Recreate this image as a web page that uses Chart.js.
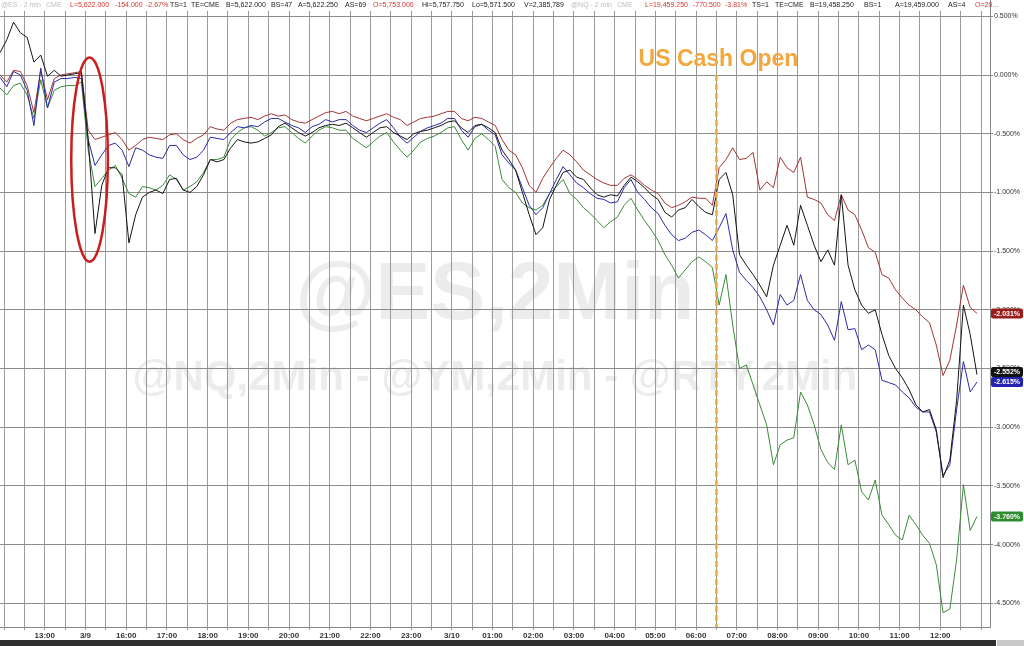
<!DOCTYPE html>
<html lang="en">
<head>
<meta charset="UTF-8">
<title>@ES,2Min</title>
<script src="https://cdn.jsdelivr.net/npm/chart.js"></script>
<style>
  html, body { margin: 0; padding: 0; background: #fff; }
  #wrap { position: relative; width: 1024px; height: 646px; overflow: hidden; font-family: "Liberation Sans", Arial, sans-serif; }
  #box { position: absolute; left: 0; top: 0; width: 1024px; height: 640px; }
  #head { position: absolute; left: 0; top: 0; width: 990px; height: 11px; background: #fff; font-size: 7px; line-height: 10px; white-space: pre; }
  #head span { position: absolute; top: 0; }
  .g { color: #bdbdbd; } .r { color: #d9342b; } .d { color: #1a1a1a; }
  #bar { position: absolute; left: 0; top: 640px; width: 996px; height: 6px; background: #2f2f2f; }
  #bar2 { position: absolute; left: 997px; top: 640px; width: 27px; height: 6px; background: #c9c9c9; }
</style>
</head>
<body>
<div id="wrap">
  <div id="box"><canvas id="chart"></canvas></div>
  <div id="head"></div>
  <div id="bar"></div><div id="bar2"></div>
</div>

<script>
  // time axis: hours counted from the 13:00 tick, one sample every 10 minutes
  const T0 = -1.1;
  const STEP = 1 / 6;
  const hourLabels = ["13:00", "3/9", "16:00", "17:00", "18:00", "19:00", "20:00", "21:00", "22:00", "23:00",
    "3/10", "01:00", "02:00", "03:00", "04:00", "05:00", "06:00", "07:00", "08:00", "09:00", "10:00", "11:00", "12:00"];
  const cashOpen = 16.5; // 06:30

  // % change
  const es = [
    0.19, 0.30, 0.45, 0.36, 0.32, 0.11, 0.17, -0.01, 0.04, -0.01,
    0.00, 0.01, 0.02, -0.55, -1.35, -0.94, -0.79, -0.79, -0.85, -1.43,
    -1.19, -1.04, -1.00, -0.98, -1.01, -0.89, -0.88, -0.98, -1.00, -0.95,
    -0.85, -0.72, -0.74, -0.72, -0.62, -0.55, -0.57, -0.58, -0.57, -0.54,
    -0.51, -0.44, -0.41, -0.45, -0.49, -0.52, -0.49, -0.45, -0.43, -0.42,
    -0.43, -0.41, -0.45, -0.49, -0.53, -0.49, -0.45, -0.44, -0.49, -0.52,
    -0.55, -0.50, -0.48, -0.47, -0.45, -0.43, -0.40, -0.39, -0.45, -0.49,
    -0.43, -0.42, -0.45, -0.49, -0.64, -0.72, -0.81, -1.00, -1.19, -1.36,
    -1.30, -1.06, -0.94, -0.83, -0.81, -0.87, -0.89, -0.96, -1.02, -1.04,
    -1.02, -1.03, -0.94, -0.87, -0.91, -0.96, -1.02, -1.06, -1.17, -1.21,
    -1.15, -1.13, -1.06, -1.12, -1.17, -1.19, -0.89, -0.83, -1.02, -1.53,
    -1.62, -1.70, -1.79, -1.89, -1.62, -1.45, -1.28, -1.45, -1.11, -1.28,
    -1.45, -1.59, -1.49, -1.62, -1.02, -1.62, -1.83, -1.96, -2.03, -2.00,
    -2.21, -2.39, -2.50, -2.58, -2.68, -2.81, -2.87, -2.85, -3.02, -3.43,
    -3.28, -2.77, -1.96, -2.21, -2.552
  ];
  const nq = [
    -0.02, -0.10, 0.03, 0.00, -0.13, -0.43, 0.06, -0.28, -0.06, -0.03,
    -0.03, -0.02, -0.03, -0.55, -0.77, -0.68, -0.60, -0.58, -0.64, -0.78,
    -0.62, -0.64, -0.68, -0.70, -0.71, -0.60, -0.60, -0.68, -0.72, -0.70,
    -0.64, -0.53, -0.54, -0.55, -0.49, -0.44, -0.45, -0.43, -0.44, -0.40,
    -0.37, -0.37, -0.40, -0.43, -0.45, -0.49, -0.44, -0.42, -0.38, -0.40,
    -0.38, -0.38, -0.43, -0.47, -0.49, -0.45, -0.41, -0.38, -0.45, -0.53,
    -0.58, -0.53, -0.48, -0.45, -0.43, -0.41, -0.37, -0.37, -0.47, -0.53,
    -0.44, -0.42, -0.47, -0.51, -0.68, -0.75, -0.81, -0.96, -1.11, -1.19,
    -1.13, -1.01, -0.89, -0.78, -0.85, -0.92, -0.96, -1.01, -1.05, -1.06,
    -1.09, -1.08, -0.96, -0.89, -1.00, -1.06, -1.13, -1.18, -1.28, -1.36,
    -1.41, -1.39, -1.34, -1.32, -1.36, -1.41, -1.30, -1.18, -1.49, -1.68,
    -1.75, -1.81, -1.89, -2.00, -2.13, -1.87, -1.96, -1.92, -1.70, -1.92,
    -2.00, -2.04, -2.13, -2.26, -1.93, -2.17, -2.16, -2.34, -2.30, -2.34,
    -2.60, -2.62, -2.64, -2.70, -2.75, -2.83, -2.87, -2.87, -3.04, -3.41,
    -3.32, -2.85, -2.44, -2.70, -2.615
  ];
  const ym = [
    0.00, -0.06, 0.04, 0.03, -0.09, -0.32, 0.04, -0.21, -0.03, 0.00,
    0.01, 0.02, 0.03, -0.47, -0.55, -0.53, -0.51, -0.49, -0.55, -0.64,
    -0.60, -0.55, -0.53, -0.54, -0.55, -0.51, -0.50, -0.55, -0.58, -0.54,
    -0.51, -0.44, -0.46, -0.47, -0.41, -0.38, -0.37, -0.36, -0.38, -0.35,
    -0.33, -0.35, -0.34, -0.38, -0.40, -0.41, -0.38, -0.35, -0.32, -0.31,
    -0.33, -0.31, -0.35, -0.37, -0.39, -0.37, -0.35, -0.33, -0.36, -0.38,
    -0.43, -0.40, -0.37, -0.36, -0.35, -0.33, -0.31, -0.31, -0.37, -0.39,
    -0.36, -0.37, -0.40, -0.43, -0.55, -0.64, -0.68, -0.79, -0.94, -1.00,
    -0.88, -0.79, -0.71, -0.64, -0.68, -0.74, -0.81, -0.85, -0.89, -0.92,
    -0.94, -0.94, -0.88, -0.85, -0.89, -0.94, -0.98, -1.01, -1.09, -1.13,
    -1.11, -1.08, -1.04, -1.05, -1.05, -1.11, -0.79, -0.72, -0.62, -0.72,
    -0.71, -0.66, -0.98, -0.91, -0.96, -0.70, -0.79, -0.83, -0.70, -1.04,
    -1.06, -1.09, -1.19, -1.24, -1.02, -1.15, -1.19, -1.32, -1.47, -1.51,
    -1.70, -1.73, -1.83, -1.90, -1.96, -2.00, -2.06, -2.11, -2.30, -2.56,
    -2.43, -2.13, -1.79, -1.98, -2.031
  ];
  const rty = [
    -0.11, -0.17, -0.09, -0.07, -0.17, -0.37, -0.04, -0.28, -0.13, -0.10,
    -0.09, -0.09, -0.06, -0.64, -0.95, -0.88, -0.81, -0.77, -0.88, -1.01,
    -1.04, -0.95, -0.96, -0.98, -0.94, -0.85, -0.89, -0.98, -0.95, -0.91,
    -0.83, -0.72, -0.72, -0.70, -0.55, -0.49, -0.45, -0.44, -0.47, -0.52,
    -0.49, -0.45, -0.44, -0.49, -0.54, -0.58, -0.52, -0.47, -0.44, -0.45,
    -0.47, -0.47, -0.54, -0.58, -0.62, -0.57, -0.52, -0.49, -0.57, -0.64,
    -0.70, -0.64, -0.57, -0.54, -0.52, -0.49, -0.45, -0.44, -0.55, -0.64,
    -0.54, -0.50, -0.55, -0.61, -0.89, -0.96, -1.00, -1.09, -1.13, -1.15,
    -1.11, -1.01, -0.95, -0.89, -1.01, -1.06, -1.13, -1.18, -1.24, -1.30,
    -1.25, -1.21, -1.11, -1.05, -1.15, -1.24, -1.32, -1.41, -1.53, -1.62,
    -1.73, -1.66, -1.59, -1.55, -1.59, -1.64, -1.96, -1.70, -2.13, -2.50,
    -2.47, -2.64, -2.81, -2.98, -3.32, -3.15, -3.11, -3.09, -2.70, -2.81,
    -2.98, -3.19, -3.30, -3.36, -2.98, -3.32, -3.28, -3.55, -3.62, -3.45,
    -3.75, -3.83, -3.92, -3.96, -3.75, -3.83, -3.92, -3.99, -4.17, -4.58,
    -4.55, -4.13, -3.49, -3.88, -3.760
  ];

  const seriesNames = ["@ES", "@NQ", "@YM", "@RTY"];
  const seriesColors = ["#141414", "#2a2aa8", "#a23434", "#3a8a3a"];
  const labelColors = ["#111111", "#2323b0", "#9b1c1c", "#2e8b2e"];

  // quote strip across the top: [x, text, colour class]
  const headerTokens = [
    [1, "@ES - 2 min", "g"], [46, "CME", "g"], [70, "L=5,622.000", "r"], [115, "-154.000", "r"],
    [146, "-2.67%", "r"], [170, "TS=1", "d"], [191, "TE=CME", "d"], [226, "B=5,622.000", "d"],
    [271, "BS=47", "d"], [298, "A=5,622.250", "d"], [345, "AS=69", "d"], [373, "O=5,753.000", "r"],
    [422, "Hi=5,757.750", "d"], [472, "Lo=5,571.500", "d"], [524, "V=2,385,789", "d"],
    [571, "@NQ - 2 min", "g"], [617, "CME", "g"], [645, "L=19,459.250", "r"], [693, "-770.500", "r"],
    [725, "-3.81%", "r"], [752, "TS=1", "d"], [775, "TE=CME", "d"], [810, "B=19,458.250", "d"],
    [864, "BS=1", "d"], [895, "A=19,459.000", "d"], [948, "AS=4", "d"], [975, "O=20\u2026", "r"]
  ];
  const head = document.getElementById("head");
  headerTokens.forEach(([x, t, c]) => {
    const s = document.createElement("span");
    s.className = c;
    s.style.left = x + "px";
    s.textContent = t;
    head.appendChild(s);
  });

  const FONT = '"Liberation Sans", Arial, sans-serif';
  Chart.defaults.font.family = FONT;

  const pts = arr => arr.map((v, i) => ({ x: T0 + i * STEP, y: v }));

  // big grey watermarks behind the grid
  const watermark = {
    id: "watermark",
    beforeDraw(chart) {
      const { ctx, chartArea: a } = chart;
      ctx.save();
      ctx.fillStyle = "#ececec";
      ctx.textAlign = "center";
      ctx.textBaseline = "middle";
      ctx.font = "bold 82px " + FONT;
      ctx.fillText("@ES,2Min", a.left + a.width * 0.5, a.top + a.height * 0.472);
      ctx.font = "bold 42px " + FONT;
      ctx.fillText("@NQ,2Min - @YM,2Min - @RTY,2Min", a.left + a.width * 0.5, a.top + a.height * 0.603);
      ctx.restore();
    }
  };

  // cash-open marker and the red ellipse around the Sunday gap
  const notes = {
    id: "notes",
    afterDatasetsDraw(chart) {
      const { ctx, chartArea: a, scales: { x, y } } = chart;
      ctx.save();
      const lx = x.getPixelForValue(cashOpen);
      ctx.strokeStyle = "#f2a83c";
      ctx.lineWidth = 2.5;
      ctx.setLineDash([6, 3]);
      ctx.beginPath();
      ctx.moveTo(lx, y.getPixelForValue(0));
      ctx.lineTo(lx, a.bottom);
      ctx.stroke();
      ctx.setLineDash([]);
      ctx.fillStyle = "#f2a83c";
      ctx.font = "bold 23px " + FONT;
      ctx.textAlign = "center";
      ctx.textBaseline = "middle";
      ctx.fillText("US Cash Open", lx + 2, y.getPixelForValue(0.13));

      const cx = x.getPixelForValue(1.1), cy = y.getPixelForValue(-0.72);
      const rx = Math.abs(x.getPixelForValue(1.55) - cx);
      const ry = Math.abs(y.getPixelForValue(0.15) - cy);
      ctx.strokeStyle = "#c81e1e";
      ctx.lineWidth = 2.5;
      ctx.beginPath();
      ctx.ellipse(cx, cy, rx, ry, 0, 0, Math.PI * 2);
      ctx.stroke();
      ctx.restore();
    }
  };

  // last-value tags on the right axis
  const lastTags = {
    id: "lastTags",
    afterDraw(chart) {
      const { ctx, chartArea: a, scales: { y } } = chart;
      const tags = chart.data.datasets.map((ds, i) => {
        const v = ds.data[ds.data.length - 1].y;
        return { y: y.getPixelForValue(v), text: v.toFixed(3) + "%", color: labelColors[i] };
      }).sort((p, q) => p.y - q.y);
      for (let i = 1; i < tags.length; i++) {
        if (tags[i].y - tags[i - 1].y < 10) tags[i - 1].y = tags[i].y - 10;
      }
      ctx.save();
      ctx.font = "bold 7px " + FONT;
      ctx.textAlign = "center";
      ctx.textBaseline = "middle";
      tags.forEach(t => {
        ctx.fillStyle = t.color;
        ctx.beginPath();
        ctx.roundRect(a.right + 1, t.y - 5, 32, 10, 2);
        ctx.fill();
        ctx.fillStyle = "#fff";
        ctx.fillText(t.text, a.right + 17, t.y + 0.5);
      });
      ctx.restore();
    }
  };

  new Chart(document.getElementById("chart"), {
    type: "line",
    data: {
      datasets: [es, nq, ym, rty].map((arr, i) => ({
        label: seriesNames[i],
        data: pts(arr),
        borderColor: seriesColors[i],
        borderWidth: 1,
        pointRadius: 0,
        tension: 0
      }))
    },
    options: {
      responsive: true,
      maintainAspectRatio: false,
      animation: false,
      events: [],
      layout: { padding: 0 },
      plugins: { legend: { display: false }, tooltip: { enabled: false } },
      scales: {
        x: {
          type: "linear",
          min: -1.1,
          max: 23.22,
          afterFit(s) { s.height = 13; s.paddingLeft = 0; s.paddingRight = 0; },
          grid: { color: "#9a9a9a", lineWidth: 1, tickLength: 3 },
          border: { color: "#888" },
          ticks: {
            stepSize: 0.5,
            autoSkip: false,
            includeBounds: false,
            maxRotation: 0,
            padding: 1,
            color: "#333",
            font: { size: 8, weight: "bold" },
            callback: v => {
              const r = Math.round(v);
              return Math.abs(v - r) < 1e-6 && hourLabels[r] ? hourLabels[r] : "";
            }
          }
        },
        y: {
          position: "right",
          min: -4.702,
          max: 0.639,
          afterFit(s) { s.width = 34; s.paddingTop = 0; s.paddingBottom = 0; },
          grid: { color: "#8c8c8c", lineWidth: 1, tickLength: 3 },
          border: { color: "#888" },
          ticks: {
            stepSize: 0.5,
            autoSkip: false,
            includeBounds: false,
            padding: 1,
            color: "#333",
            font: { size: 7 },
            callback: v => v.toFixed(3) + "%"
          }
        }
      }
    },
    plugins: [watermark, notes, lastTags]
  });
</script>
</body>
</html>
